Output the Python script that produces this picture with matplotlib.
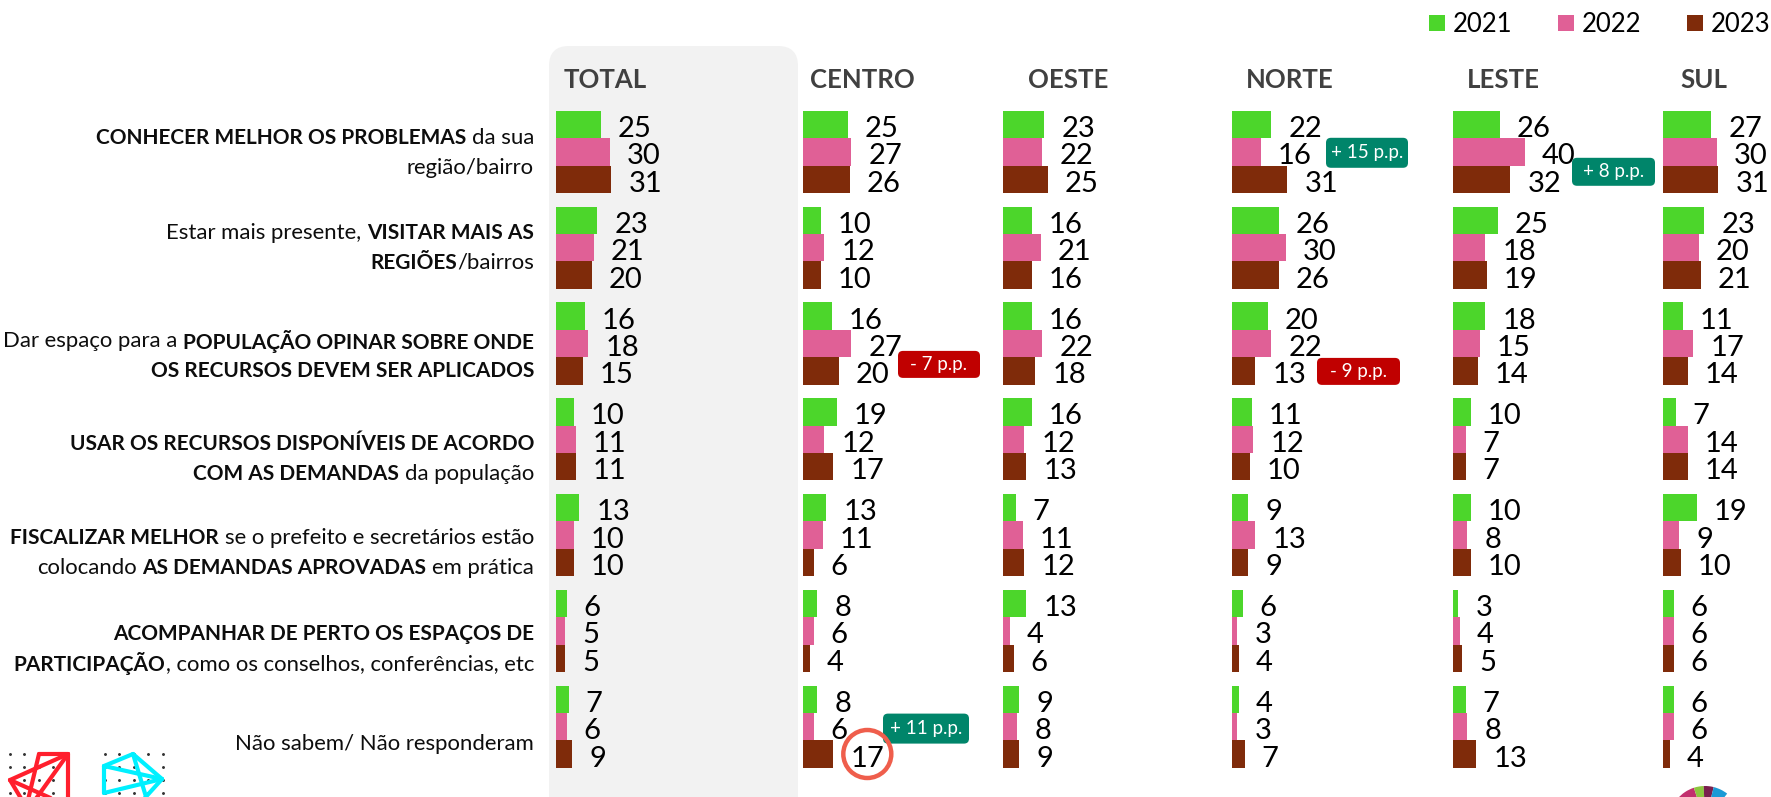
import matplotlib
matplotlib.use("Agg")
import matplotlib.pyplot as plt
from matplotlib.patches import FancyBboxPatch, Rectangle, Wedge, Circle
import numpy as np

plt.rcParams["font.family"] = ["Lato", "DejaVu Sans"]

# ---- data -------------------------------------------------------------
regions = ["TOTAL", "CENTRO", "OESTE", "NORTE", "LESTE", "SUL"]
years = ["2021", "2022", "2023"]

v2021 = {
    "TOTAL":  [25, 23, 16, 10, 13, 6, 7],
    "CENTRO": [25, 10, 16, 19, 13, 8, 8],
    "OESTE":  [23, 16, 16, 16, 7, 13, 9],
    "NORTE":  [22, 26, 20, 11, 9, 6, 4],
    "LESTE":  [26, 25, 18, 10, 10, 3, 7],
    "SUL":    [27, 23, 11, 7, 19, 6, 6],
}
v2022 = {
    "TOTAL":  [30, 21, 18, 11, 10, 5, 6],
    "CENTRO": [27, 12, 27, 12, 11, 6, 6],
    "OESTE":  [22, 21, 22, 12, 11, 4, 8],
    "NORTE":  [16, 30, 22, 12, 13, 3, 3],
    "LESTE":  [40, 18, 15, 7, 8, 4, 8],
    "SUL":    [30, 20, 17, 14, 9, 6, 6],
}
v2023 = {
    "TOTAL":  [31, 20, 15, 11, 10, 5, 9],
    "CENTRO": [26, 10, 20, 17, 6, 4, 17],
    "OESTE":  [25, 16, 18, 13, 12, 6, 9],
    "NORTE":  [31, 26, 13, 10, 9, 4, 7],
    "LESTE":  [32, 19, 14, 7, 10, 5, 13],
    "SUL":    [31, 21, 14, 14, 10, 6, 4],
}

# each answer: list of lines, each line a list of (text, bold) runs
answers = [
    [[("CONHECER MELHOR OS PROBLEMAS", True), (" da sua", False)],
     [("região/bairro", False)]],
    [[("Estar mais presente, ", False), ("VISITAR MAIS AS", True)],
     [("REGIÕES", True), ("/bairros", False)]],
    [[("Dar espaço para a ", False), ("POPULAÇÃO OPINAR SOBRE ONDE", True)],
     [("OS RECURSOS DEVEM SER APLICADOS", True)]],
    [[("USAR OS RECURSOS DISPONÍVEIS DE ACORDO", True)],
     [("COM AS DEMANDAS", True), (" da população", False)]],
    [[("FISCALIZAR MELHOR", True), (" se o prefeito e secretários estão", False)],
     [("colocando ", False), ("AS DEMANDAS APROVADAS", True), (" em prática", False)]],
    [[("ACOMPANHAR DE PERTO OS ESPAÇOS DE", True)],
     [("PARTICIPAÇÃO", True), (", como os conselhos, conferências, etc", False)]],
    [[("Não sabem/ Não responderam", False)]],
]

# change callouts: region, answer row, text, colour
callouts = [
    ("NORTE", 0, "+ 15 p.p.", "#00856a"),
    ("LESTE", 0, "+ 8 p.p.", "#00856a"),
    ("CENTRO", 2, "- 7 p.p.", "#c00000"),
    ("NORTE", 2, "- 9 p.p.", "#c00000"),
    ("CENTRO", 6, "+ 11 p.p.", "#00856a"),
]
highlight = ("CENTRO", 6)

# ---- layout (pixels) --------------------------------------------------
W, H = 1771, 797
colors = ["#4cd62b", "#e06096", "#7f2b0a"]
px_per_unit = 1.79
bar_px = 27.4
pitch = 95.8
first_center = 151.8
panel_x = [556, 803, 1003, 1232, 1453, 1663]
header_x = [564, 810, 1028, 1246, 1467, 1680]
label_shift = [1, 0, 13, 20, 18, 18, 17]
# callout boxes: (left px offset from panel start, centre y offset from row centre, w, h)
callout_geo = [(94, 1, 82, 30), (119, 20, 83, 28), (95, 21, 82, 27),
               (85, 28, 83, 27), (80, 2, 86, 30)]

fig = plt.figure(figsize=(W / 100, H / 100), dpi=100)

back = fig.add_axes([0, 0, 1, 1], zorder=0)
front = fig.add_axes([0, 0, 1, 1], zorder=5)
for a in (back, front):
    a.set_xlim(0, W)
    a.set_ylim(H, 0)
    a.axis("off")
    a.patch.set_alpha(0)

# grey card behind the TOTAL column
back.add_patch(FancyBboxPatch((549, 46), 249, 800, boxstyle="round,pad=0,rounding_size=20",
                              fc="#f2f2f2", ec="none"))

bh = bar_px / pitch
rows = np.arange(len(answers))
y_top = first_center - 0.5 * pitch
y_bot = first_center + (len(answers) - 0.5) * pitch
renderer = fig.canvas.get_renderer()
axes = {}
value_texts = {}

for k, reg in enumerate(regions):
    width_px = 200
    ax = fig.add_axes([panel_x[k] / W, 1 - y_bot / H, width_px / W, (y_bot - y_top) / H], zorder=2)
    ax.set_xlim(0, width_px / px_per_unit)
    ax.set_ylim(len(answers) - 0.5, -0.5)
    ax.axis("off")
    ax.patch.set_alpha(0)
    axes[reg] = ax
    for j, series in enumerate([v2021, v2022, v2023]):
        vals = series[reg]
        ys = rows + (j - 1) * bh
        ax.barh(ys, vals, height=bh, color=colors[j], linewidth=0)
        for r, (y, v) in enumerate(zip(ys, vals)):
            # baseline sits a touch below the bar centre so the digits look centred
            t = ax.text(v + 17 / px_per_unit, y + 12.5 / pitch, str(v), ha="left",
                        va="baseline", fontsize=21, color="#000000", clip_on=False)
            value_texts[(reg, r, j)] = t
    front.text(header_x[k], 88, reg, ha="left", va="baseline", fontsize=18.5,
               fontweight="bold", color="#404040")

# answer labels with mixed weights, right aligned
def run_width(s, weight, size):
    t = front.text(0, 0, s, fontsize=size, fontweight=weight)
    w = t.get_window_extent(renderer).width
    t.remove()
    return w


def rich_line(runs, x_right, y, bold_size=15, plain_size=15.9):
    x = x_right
    for text, bold in reversed(runs):
        weight = "bold" if bold else "normal"
        size = bold_size if bold else plain_size
        sp = run_width("a a", weight, size) - run_width("aa", weight, size)
        if text.endswith(" "):
            x -= sp
        t = front.text(x, y, text.strip(), ha="right", va="center", fontsize=size,
                       fontweight=weight, color="#0d0d0d")
        x -= t.get_window_extent(renderer).width
        if text.startswith(" "):
            x -= sp


line_gap = 30
for r, lines in enumerate(answers):
    yc = first_center + r * pitch + label_shift[r]
    n = len(lines)
    for i, runs in enumerate(lines):
        rich_line(runs, 534, yc + (i - (n - 1) / 2) * line_gap)

# change callouts
for (reg, r, txt, col), (dx, dy, bw, bhh) in zip(callouts, callout_geo):
    k = regions.index(reg)
    x = panel_x[k] + dx
    y = first_center + r * pitch + dy
    front.add_patch(FancyBboxPatch((x, y - bhh / 2), bw, bhh,
                                   boxstyle="round,pad=0,rounding_size=5", fc=col, ec="none"))
    front.text(x + bw / 2, y, txt, ha="center", va="center", fontsize=13.5, color="white")

# ring around the highlighted value
reg, r = highlight
bb = value_texts[(reg, r, 2)].get_window_extent(renderer)
cx = bb.x0 + bb.width / 2
cy = H - axes[reg].transData.transform((0, r + bh))[1]
front.add_patch(Circle((cx, cy), 24, fill=False, ec="#ef5e4c", lw=3.2))

# legend
for j, (yr, x) in enumerate(zip(years, [1429, 1558, 1687])):
    front.add_patch(Rectangle((x, 15), 16, 16, fc=colors[j], ec="none"))
    front.text(x + 24, 32, yr, ha="left", va="baseline", fontsize=18.5, color="#000000")

# little logos along the bottom edge
gx = np.array([0, 14.5, 29, 43.5, 58])
gy = np.array([754, 767, 780, 793])
for ox in (10, 105):
    X, Y = np.meshgrid(gx + ox, gy)
    back.scatter(X.ravel(), Y.ravel(), s=1.2, color="#333333", zorder=1)
red_segs = [((39, 754), (68, 754)), ((68, 754), (68, 800)), ((10, 780), (68, 754)),
            ((39, 754), (28, 800)), ((10, 780), (22, 800)), ((10, 780), (55, 800)),
            ((68, 754), (35, 800))]
cyan_segs = [((133, 754), (104, 766)), ((104, 766), (104, 793)), ((104, 793), (162, 779)),
             ((104, 766), (162, 779)), ((133, 754), (162, 779)), ((133, 754), (147, 800)),
             ((162, 779), (143, 800))]
for segs, col in ((red_segs, "#ff1f2d"), (cyan_segs, "#00f0ff")):
    for (x1, y1), (x2, y2) in segs:
        back.plot([x1, x2], [y1, y2], color=col, lw=3, solid_capstyle="round", zorder=2)

fan = [(150, 162, "#f26522"), (108, 140, "#c2306e"), (92, 108, "#8dc63f"),
       (76, 92, "#7a1f4e"), (52, 76, "#1b9ad6")]
for a1, a2, col in fan:
    back.add_patch(Wedge((1705, 822), 36, -a2, -a1, fc=col, ec="none"))

fig.savefig("out.png", dpi=100)
